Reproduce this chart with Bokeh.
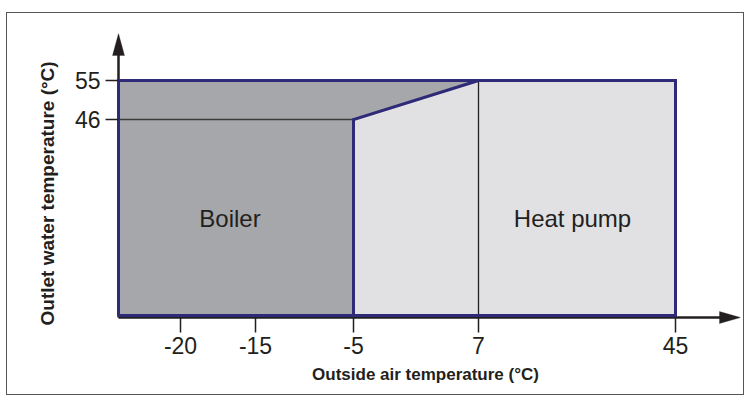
from bokeh.plotting import figure
from bokeh.models import Range1d, FixedTicker, Label, PolyAnnotation, Title
from bokeh.embed import file_html
from bokeh.resources import INLINE

# ---- data (schematic chart: tick positions are not to scale) ----
x_labels = ["-20", "-15", "-5", "7", "45"]          # outside air temperature ticks (°C)
x_pos = [62, 137, 235, 360, 557]                     # schematic axis positions of those ticks
y_labels = ["46", "55"]                              # outlet water temperature ticks (°C)
y_pos = [196, 235]                                   # schematic axis positions of those ticks
zones = ["Boiler", "Heat pump"]

xp = dict(zip(x_labels, x_pos))
yp = dict(zip(y_labels, y_pos))
x0, y0 = 0, 0
xm5, x7, x45 = xp["-5"], xp["7"], xp["45"]
y46, y55 = yp["46"], yp["55"]

FONT = "Liberation Sans"
INK = "#231f20"
NAVY = "#2e2a78"

p = figure(width=738, height=383, output_backend="svg", toolbar_location=None,
           x_range=Range1d(-8, 622), y_range=Range1d(-10, 282),
           min_border_left=103, min_border_right=5, min_border_top=20, min_border_bottom=71)
p.grid.visible = False
p.outline_line_color = None
p.styles = {"border": "1px solid #555555", "margin-left": "6px", "margin-top": "12px"}

xs0, xe = p.x_range.start, p.x_range.end
ys0, ye = p.y_range.start, p.y_range.end
x_axis_y = -2           # drawn x-axis line sits just under the zones

# axis lines (drawn under the zones' outline)
p.line([x0, xe - 10], [x_axis_y, x_axis_y], line_color=INK, line_width=2.5)
p.line([x0, x0], [x_axis_y, ye - 10], line_color=INK, line_width=2.5)

# regions
p.patch([x0, x0, x7, xm5, xm5], [y0, y55, y55, y46, y0], fill_color="#a5a7aa", line_color=None)
p.patch([xm5, xm5, x7, x45, x45], [y0, y46, y55, y55, y0], fill_color="#e1e1e4", line_color=None)

# thin reference lines
p.line([x0, xm5], [y46, y46], line_color="#3c3c3c", line_width=1.3)
p.line([x7, x7], [y0, y55], line_color=INK, line_width=1.3)

# navy outlines
p.line([x0, x0, x45, x45, x0], [y0, y55, y55, y0, y0], line_color=NAVY, line_width=3, line_join="miter")
p.line([xm5, xm5, x7], [y0, y46, y55], line_color=NAVY, line_width=3, line_join="miter")

# zone labels
p.add_layout(Label(x=(x0 + xm5) / 2 - 6, y=97, text=zones[0], text_align="center",
                   text_baseline="alphabetic", text_font=FONT, text_font_size="24px", text_color=INK))
p.add_layout(Label(x=(x7 + x45) / 2 - 4.5, y=97, text=zones[1], text_align="center",
                   text_baseline="alphabetic", text_font=FONT, text_font_size="24px", text_color=INK))

# axes
for ax in (p.xaxis, p.yaxis):
    ax.axis_line_color = None
    ax.major_tick_line_color = INK
    ax.major_tick_line_width = 1.5
    ax.minor_tick_line_color = None
    ax.major_label_text_font = FONT
    ax.major_label_text_font_size = "23px"
    ax.major_label_text_color = INK

p.xaxis.ticker = FixedTicker(ticks=x_pos)
p.xaxis.major_label_overrides = {v: t for v, t in zip(x_pos, x_labels)}
p.xaxis.major_tick_out = 7
p.xaxis.major_tick_in = 8
p.xaxis.major_label_standoff = 4
p.xaxis.axis_label = "Outside air temperature (°C)"
p.xaxis.axis_label_standoff = 8
p.xaxis.axis_label_text_font = FONT
p.xaxis.axis_label_text_font_size = "17px"
p.xaxis.axis_label_text_font_style = "bold"
p.xaxis.axis_label_text_color = INK

p.yaxis.ticker = FixedTicker(ticks=y_pos)
p.yaxis.major_label_overrides = {v: t for v, t in zip(y_pos, y_labels)}
p.yaxis.major_tick_out = 5
p.yaxis.major_tick_in = 8
p.yaxis.major_label_standoff = 5
p.yaxis.major_label_orientation = "horizontal"

# y-axis title as a side title, aligned to the bottom of the zones
p.add_layout(Title(text="Outlet water temperature (°C)", align="left", offset=0, standoff=27,
                   text_font=FONT, text_font_size="19px", text_font_style="bold",
                   text_color=INK), "left")

# arrow heads at the axis ends
p.add_layout(PolyAnnotation(xs=[xe - 21, xe, xe - 21], ys=[x_axis_y - 6, x_axis_y, x_axis_y + 6],
                            fill_color=INK, fill_alpha=1, line_color=INK, line_width=1))
p.add_layout(PolyAnnotation(xs=[x0 - 6, x0, x0 + 6], ys=[ye - 22, ye, ye - 22],
                            fill_color=INK, fill_alpha=1, line_color=INK, line_width=1))

open("out.html", "w").write(file_html(p, INLINE))
